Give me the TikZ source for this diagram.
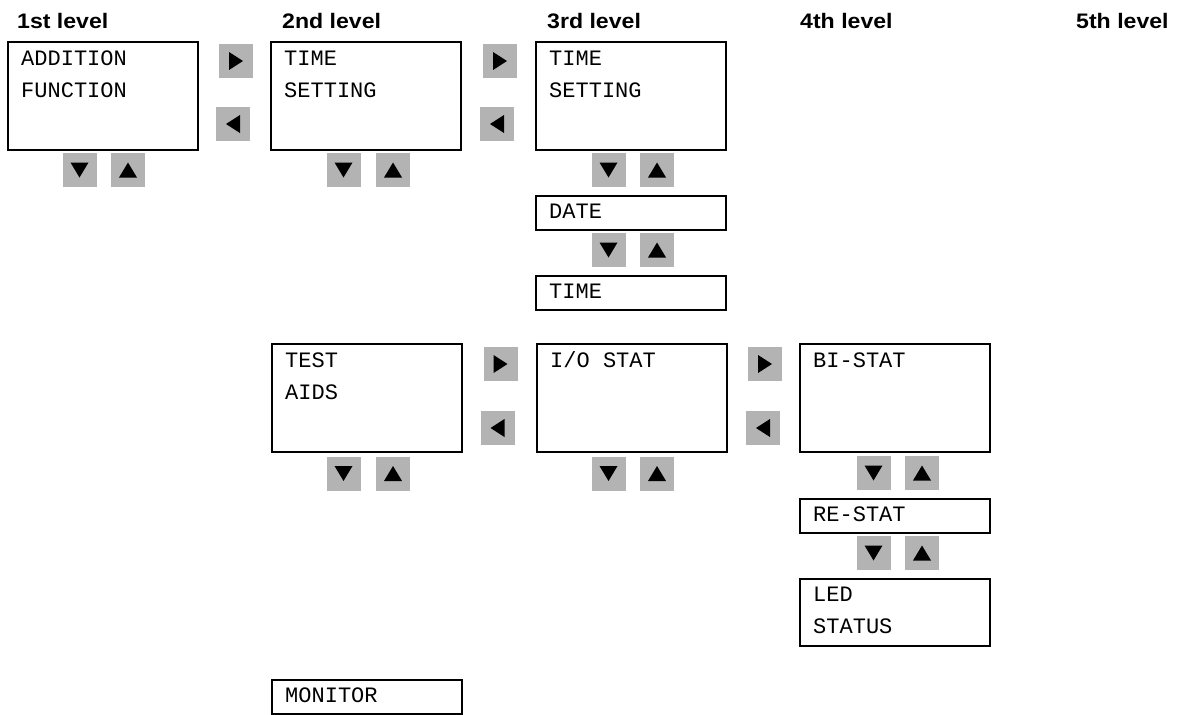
\documentclass[tikz,border=0pt]{standalone}
\usepackage{fontspec}
\setmainfont{Liberation Sans}
\newfontfamily\dispfont{Liberation Mono}
\definecolor{btngray}{RGB}{179,179,179}
\begin{document}
\begin{tikzpicture}[x=1pt,y=-1pt,
  dbox/.style={draw=black, line width=1.8pt, rectangle, inner sep=0pt, anchor=north west, minimum width=190pt},
  bigbox/.style={dbox, minimum height=108pt},
  smallbox/.style={dbox, minimum height=34pt},
  midbox/.style={dbox, minimum height=67pt},
  lbl/.style={anchor=base west, inner sep=0pt, align=left, font=\dispfont\fontsize{22}{32}\selectfont},
  hdr/.style={anchor=base west, inner sep=0pt, font=\bfseries\fontsize{21}{24}\selectfont},
  btn/.style={fill=btngray, rectangle, minimum size=34pt, inner sep=0pt},
  btnR/.style={btn, path picture={\fill[black] ([shift={(-7pt,9pt)}]path picture bounding box.center) -- ++(14pt,-9pt) -- ++(-14pt,-9pt) -- cycle;}},
  btnL/.style={btn, path picture={\fill[black] ([shift={(7pt,9pt)}]path picture bounding box.center) -- ++(-14pt,-9pt) -- ++(14pt,-9pt) -- cycle;}},
  btnD/.style={btn, path picture={\fill[black] ([shift={(-9pt,7.5pt)}]path picture bounding box.center) -- ++(18pt,0pt) -- ++(-9pt,-15pt) -- cycle;}},
  btnU/.style={btn, path picture={\fill[black] ([shift={(-9pt,-7.5pt)}]path picture bounding box.center) -- ++(18pt,0pt) -- ++(-9pt,15pt) -- cycle;}},
]
\useasboundingbox (0,0) rectangle (1189,715);

% headers
\node[hdr] (h1) at (17,28) {\scalebox{1.1}[1]{1st level}};
\node[hdr] (h2) at (282,28) {\scalebox{1.1}[1]{2nd level}};
\node[hdr] (h3) at (547,28) {\scalebox{1.1}[1]{3rd level}};
\node[hdr] (h4) at (800,28) {\scalebox{1.1}[1]{4th level}};
\node[hdr] (h5) at (1076,28) {\scalebox{1.1}[1]{5th level}};

% row 1 (two-line labels are placed at the baseline of their last line)
\node[bigbox] (addfunc) at (7,41) {};
\node[lbl] (taddfunc) at (21,97) {ADDITION\\FUNCTION};
\node[btnR] (r12) at (236,61) {};
\node[btnL] (l12) at (233,124) {};
\node[btnD] (d1) at (79.5,170) {};
\node[btnU] (u1) at (128,170) {};

\node[bigbox] (ts2) at (270,41) {};
\node[lbl] (tts2) at (284,97) {TIME\\SETTING};
\node[btnD] (d2) at (343.5,170) {};
\node[btnU] (u2) at (393,170) {};
\node[btnR] (r23) at (500,61) {};
\node[btnL] (l23) at (497,124) {};

\node[bigbox] (ts3) at (535,41) {};
\node[lbl] (tts3) at (549,97) {TIME\\SETTING};
\node[btnD] (d3) at (608.5,170) {};
\node[btnU] (u3) at (657,170) {};
\node[smallbox] (date) at (535,195) {};
\node[lbl] (tdate) at (549,218) {DATE};
\node[btnD] (d3b) at (608.5,250) {};
\node[btnU] (u3b) at (657,250) {};
\node[smallbox] (time) at (535,275) {};
\node[lbl] (ttime) at (549,298) {TIME};

% row 2
\node[bigbox] (test) at (271,343) {};
\node[lbl] (ttest) at (285,399) {TEST\\AIDS};
\node[btnD] (d4) at (343.5,473.5) {};
\node[btnU] (u4) at (393,473.5) {};
\node[btnR] (r45) at (500.5,364) {};
\node[btnL] (l45) at (497.5,428) {};

\node[bigbox] (io) at (536,343) {};
\node[lbl] (tio) at (550,367) {I/O STAT};
\node[btnD] (d5) at (608.5,473.5) {};
\node[btnU] (u5) at (657,473.5) {};
\node[btnR] (r56) at (765,364) {};
\node[btnL] (l56) at (763,428) {};

\node[bigbox] (bi) at (799,343) {};
\node[lbl] (tbi) at (813,367) {BI-STAT};
\node[btnD] (d6) at (873.5,473) {};
\node[btnU] (u6) at (922,473) {};
\node[smallbox] (re) at (799,498) {};
\node[lbl] (tre) at (813,521) {RE-STAT};
\node[btnD] (d7) at (873.5,553) {};
\node[btnU] (u7) at (922,553) {};
\node[midbox] (led) at (799,578) {};
\node[lbl] (tled) at (813,633) {LED\\STATUS};

% row 3
\node[smallbox] (mon) at (271,679) {};
\node[lbl] (tmon) at (285,702) {MONITOR};
\end{tikzpicture}
\end{document}
